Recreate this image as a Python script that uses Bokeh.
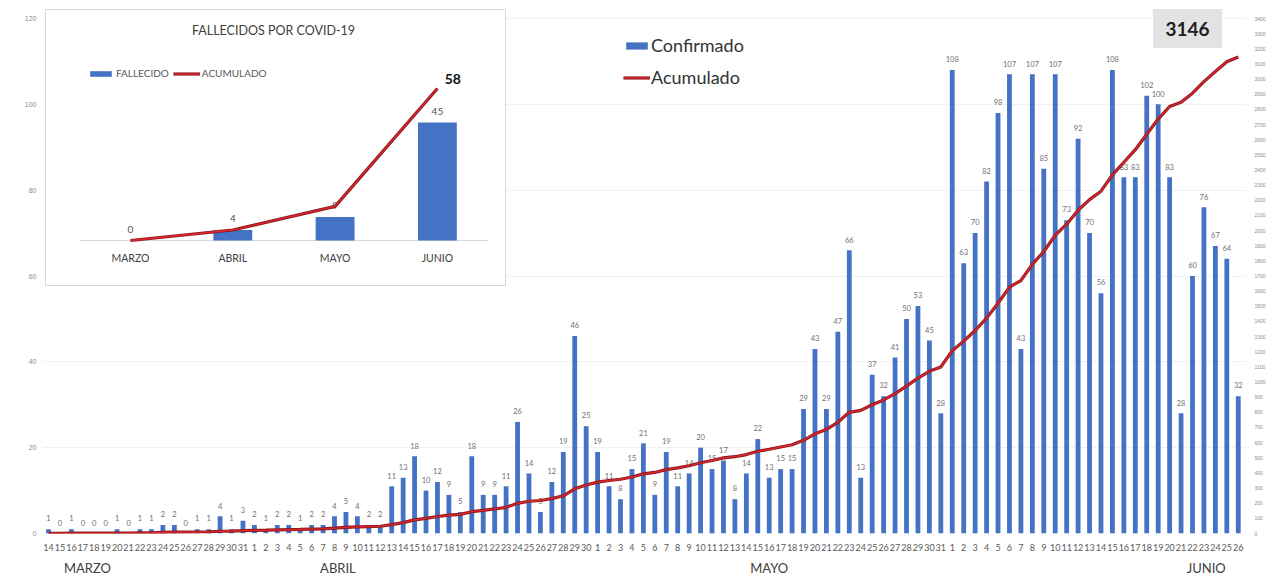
import numpy as np
from bokeh.plotting import figure
from bokeh.models import (Range1d, LinearAxis, FixedTicker, Legend, LegendItem, AllLabels)
from bokeh.core.properties import value
from bokeh.embed import file_html
from bokeh.resources import INLINE

# ---------------- data ----------------
march_days = list(range(14, 32))
april_days = list(range(1, 31))
may_days = list(range(1, 32))
june_days = list(range(1, 27))

march_vals = [1, 0, 1, 0, 0, 0, 1, 0, 1, 1, 2, 2, 0, 1, 1, 4, 1, 3]
april_vals = [2, 1, 2, 2, 1, 2, 2, 4, 5, 4, 2, 2, 11, 13, 18, 10, 12, 9, 5, 18,
              9, 9, 11, 26, 14, 5, 12, 19, 46, 25]
may_vals = [19, 11, 8, 15, 21, 9, 19, 11, 14, 20, 15, 17, 8, 14, 22, 13, 15, 15,
            29, 43, 29, 47, 66, 13, 37, 32, 41, 50, 53, 45, 28]
june_vals = [108, 63, 70, 82, 98, 107, 43, 107, 85, 107, 73, 92, 70, 56, 108, 83,
             83, 102, 100, 83, 28, 60, 76, 67, 64, 32]

month_names = ["MARZO", "ABRIL", "MAYO", "JUNIO"]
monthly_deaths = [0, 4, 9, 45]
inset_title = "FALLECIDOS POR COVID-19"
series_names = ["Confirmado", "Acumulado"]
inset_series_names = ["FALLECIDO", "ACUMULADO"]

day_labels = [str(d) for d in march_days + april_days + may_days + june_days]
confirmed = march_vals + april_vals + may_vals + june_vals
cumulative = np.cumsum(confirmed)
total = int(cumulative[-1])
monthly_cum = np.cumsum(monthly_deaths)
idx = list(range(len(confirmed)))

# ---------------- layout (pixel geometry) ----------------
W, H = 1274, 578
FRAME_L, FRAME_R, FRAME_T, FRAME_B = 42, 1246, 8, 533
X0, DX = 48, 11.44                                      # first bar / spacing
PXU = 515 / 120                                          # px per left-axis unit
PXU_R = 515 / 3400                                       # px per right-axis unit

x_start = (FRAME_L - X0) / DX
x_end = (FRAME_R - X0) / DX
y_end = (FRAME_B - FRAME_T) / PXU
acum_end = (FRAME_B - FRAME_T) / PXU_R

# inset geometry
IX0, IDX = 130, 102.3
IBASE, IPXU = 240, 2.622
def ix(px):
    return (px - IX0) / IDX
def iy(py):
    return (IBASE - py) / IPXU

BLUE = "#4472C4"
RED_OUT = "#8E1B22"
RED_IN = "#E0262B"
FONT = value("Lato")

p = figure(width=W, height=H, output_backend="svg", toolbar_location=None,
           x_range=Range1d(x_start, x_end), y_range=Range1d(0, y_end),
           min_border_left=FRAME_L, min_border_right=W - FRAME_R,
           min_border_top=FRAME_T, min_border_bottom=H - FRAME_B)
p.outline_line_color = None
p.background_fill_color = "white"
p.extra_y_ranges = {"acum": Range1d(0, acum_end),
                    "iy": Range1d(iy(FRAME_B), iy(FRAME_T))}
p.extra_x_ranges = {"ix": Range1d(ix(FRAME_L), ix(FRAME_R))}


def plain(axis):
    axis.axis_line_color = None
    axis.major_tick_line_color = None
    axis.minor_tick_line_color = None
    axis.major_tick_out = 0
    axis.major_tick_in = 0
    axis.minor_tick_out = 0
    axis.minor_tick_in = 0


p.xgrid.visible = False
p.ygrid.grid_line_color = "#f1f1f1"
xa = p.xaxis[0]
plain(xa)
xa.ticker = FixedTicker(ticks=idx)
xa.major_label_overrides = {i: lbl for i, lbl in enumerate(day_labels)}
xa.major_label_policy = AllLabels()
xa.major_label_text_font_size = "9px"
xa.major_label_text_color = "#595959"
xa.major_label_text_font = "Lato"
xa.major_label_standoff = 10

ya = p.yaxis[0]
plain(ya)
ya.ticker = FixedTicker(ticks=[0, 20, 40, 60, 80, 100, 120])
ya.major_label_text_font_size = "7px"
ya.major_label_text_color = "#8c8c8c"
ya.major_label_standoff = 6

ra = LinearAxis(y_range_name="acum", ticker=FixedTicker(ticks=list(range(0, 3401, 100))))
plain(ra)
ra.major_label_text_font_size = "5px"
ra.major_label_text_color = "#8c8c8c"
ra.major_label_standoff = 8
p.add_layout(ra, "right")

month_ticks = [3.4, 25.3, 63.0, 101.2]
ma = LinearAxis(ticker=FixedTicker(ticks=month_ticks))
plain(ma)
ma.major_label_overrides = {t: m for t, m in zip(month_ticks, month_names)}
ma.major_label_text_font_size = "13px"
ma.major_label_text_color = "#404040"
ma.major_label_text_font = "Lato"
ma.major_label_standoff = 6
p.add_layout(ma, "below")

# main bars and labels
bars = p.vbar(x=idx, top=confirmed, width=0.42, fill_color=BLUE, line_color=None)
p.text(x=idx, y=[v + 1.8 for v in confirmed], text=[str(v) for v in confirmed],
       text_align="center", text_baseline="bottom", text_font_size="7.5px",
       text_color="#6f6f6f", text_font=FONT)

# main cumulative line
l_out = p.line(x=idx, y=cumulative, y_range_name="acum", line_color=RED_OUT, line_width=3.2)
l_in = p.line(x=idx, y=cumulative, y_range_name="acum", line_color=RED_IN, line_width=1.3)

# total box
bx, by = (1187 - X0) / DX, (FRAME_B - 28) / PXU
p.rect(x=[bx], y=[by], width=69, height=39,
       width_units="screen", height_units="screen", fill_color="#e3e3e3", line_color=None)
p.text(x=[bx], y=[by], text=[str(total)],
       text_align="center", text_baseline="middle", text_font_size="19px",
       text_font_style="bold", text_color="#1f1f1f", text_font=FONT)

main_legend = Legend(items=[LegendItem(label=series_names[0], renderers=[bars]),
                            LegendItem(label=series_names[1], renderers=[l_out, l_in])],
                     location=(623 - FRAME_L, FRAME_B - 88), orientation="vertical",
                     glyph_width=27, glyph_height=9, label_height=22,
                     label_text_font_size="18px", label_text_color="#333333",
                     label_text_font="Lato", label_standoff=1, spacing=10,
                     padding=0, margin=0, border_line_color=None, background_fill_alpha=0)
p.add_layout(main_legend)

# ---------------- inset ----------------
inset_pos = list(range(len(month_names)))
p.quad(left=[ix(45)], right=[ix(505)], bottom=[iy(285)], top=[iy(9)],
       x_range_name="ix", y_range_name="iy", fill_color="white",
       line_color="#d9d9d9", line_width=1)
p.segment(x0=[-0.5], y0=[0], x1=[3.5], y1=[0], x_range_name="ix", y_range_name="iy",
          line_color="#d9d9d9", line_width=1)
ibars = p.vbar(x=inset_pos, top=monthly_deaths, width=0.38, x_range_name="ix",
               y_range_name="iy", fill_color=BLUE, line_color=None)
p.text(x=inset_pos, y=[v + 3 for v in monthly_deaths],
       text=[str(v) for v in monthly_deaths], x_range_name="ix", y_range_name="iy",
       text_align="center", text_baseline="bottom", text_font_size="10px",
       text_color="#505050", text_font=FONT)
il_out = p.line(x=inset_pos, y=monthly_cum, x_range_name="ix", y_range_name="iy",
                line_color=RED_OUT, line_width=3.2)
il_in = p.line(x=inset_pos, y=monthly_cum, x_range_name="ix", y_range_name="iy",
               line_color=RED_IN, line_width=1.3)
p.text(x=[inset_pos[-1] + 0.15], y=[monthly_cum[-1] + 1.5], text=[str(int(monthly_cum[-1]))],
       x_range_name="ix", y_range_name="iy", text_align="center", text_baseline="bottom",
       text_font_size="14px", text_font_style="bold", text_color="#111111", text_font=FONT)
p.text(x=inset_pos, y=[iy(257)] * 4, text=month_names, x_range_name="ix", y_range_name="iy",
       text_align="center", text_baseline="middle", text_font_size="10.5px",
       text_color="#404040", text_font=FONT)
p.text(x=[ix(273)], y=[iy(30)], text=[inset_title], x_range_name="ix", y_range_name="iy",
       text_align="center", text_baseline="middle", text_font_size="12.5px",
       text_color="#404040", text_font=FONT)

inset_legend = Legend(items=[LegendItem(label=inset_series_names[0], renderers=[ibars]),
                             LegendItem(label=inset_series_names[1], renderers=[il_out, il_in])],
                      location=(87 - FRAME_L, FRAME_B - 79), orientation="horizontal",
                      glyph_width=27, glyph_height=7, label_height=12,
                      label_text_font_size="10px", label_text_color="#595959",
                      label_text_font="Lato", label_standoff=2, spacing=4,
                      padding=0, margin=0, border_line_color=None, background_fill_alpha=0)
p.add_layout(inset_legend)

open("out.html", "w").write(file_html(p, INLINE))
